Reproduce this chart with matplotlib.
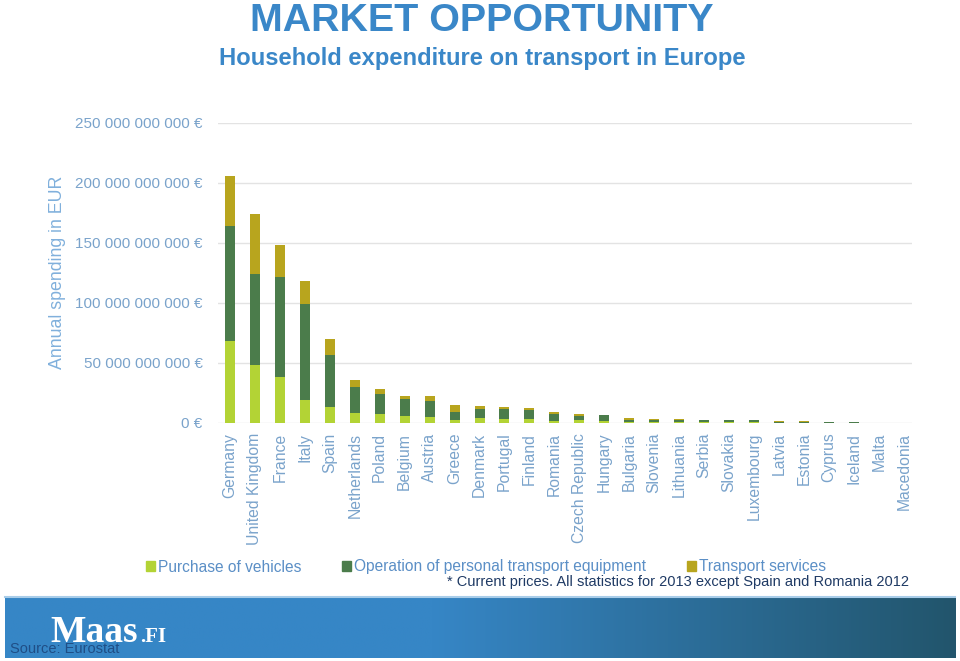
import numpy as np
import matplotlib
matplotlib.use('Agg')
import matplotlib.pyplot as plt
from matplotlib.patches import Patch
from matplotlib.ticker import FuncFormatter

plt.rcParams['font.family'] = ['Liberation Sans', 'DejaVu Sans']

countries = ['Germany', 'United Kingdom', 'France', 'Italy', 'Spain', 'Netherlands',
             'Poland', 'Belgium', 'Austria', 'Greece', 'Denmark', 'Portugal', 'Finland',
             'Romania', 'Czech Republic', 'Hungary', 'Bulgaria', 'Slovenia', 'Lithuania',
             'Serbia', 'Slovakia', 'Luxembourg', 'Latvia', 'Estonia', 'Cyprus', 'Iceland',
             'Malta', 'Macedonia']

# billions of EUR
purchase = [68, 48, 38, 19, 13, 8, 7.5, 6.1, 5.3, 2.8, 3.9, 3.1, 3.1,
            1.9, 2.2, 1.4, 0.8, 0.8, 0.7, 0.5, 0.6, 0.9, 0.3, 0.3, 0.3, 0.2, 0.1, 0.1]
operation = [96, 76, 84, 80, 44, 22, 16.4, 14.2, 12.7, 6.1, 7.8, 8.3, 7.5,
             5.3, 3.9, 5.0, 1.7, 1.8, 2.0, 1.8, 1.5, 1.6, 0.9, 0.7, 0.6, 0.4, 0.2, 0.2]
services = [42, 50, 26, 19, 13, 6, 4.4, 2.5, 4.2, 6.4, 2.2, 2.2, 2.2,
            1.7, 1.1, 0.5, 1.7, 0.4, 0.3, 0.4, 0.8, 0.3, 0.3, 0.3, 0.2, 0.2, 0.1, 0.1]

series_names = ['Purchase of vehicles', 'Operation of personal transport equipment',
                'Transport services']
colors = ['#b3d335', '#4b7c4b', '#b8a51e']

blue = '#3a87c8'
tick_blue = '#7aa3cb'

purchase = np.array(purchase) * 1e9
operation = np.array(operation) * 1e9
services = np.array(services) * 1e9
x = np.arange(len(countries))

fig = plt.figure(figsize=(9.6, 6.61), dpi=100)
ax = fig.add_axes([218 / 960, 1 - 423 / 661, (912 - 218) / 960, 300 / 661])

ax.bar(x, purchase, 0.4, color=colors[0], zorder=3)
ax.bar(x, operation, 0.4, bottom=purchase, color=colors[1], zorder=3)
ax.bar(x, services, 0.4, bottom=purchase + operation, color=colors[2], zorder=3)

ax.set_xlim(-0.48, 27.33)
ax.set_ylim(0, 250e9)
ax.set_yticks(np.arange(0, 251e9, 50e9))
ax.yaxis.set_major_formatter(FuncFormatter(
    lambda v, p: '{:,.0f} €'.format(v).replace(',', ' ')))
ax.grid(axis='y', color='#e3e3e3', lw=1, zorder=0)
for s in ax.spines.values():
    s.set_visible(False)
ax.set_xticks(x)
ax.set_xticklabels(countries, rotation=90, va='top', ha='center')
ax.tick_params(axis='both', length=0, labelsize=11.3, labelcolor=tick_blue)
ax.tick_params(axis='x', pad=7)
ax.tick_params(axis='y', labelsize=11, pad=11)

fig.text(58 / 960, 1 - 272 / 661, 'Annual spending in EUR', rotation=90,
         ha='center', va='center', fontsize=12.8, color='#80b0dc')

fig.text(482 / 960, 1 - 21 / 661, 'MARKET OPPORTUNITY', ha='center', va='center',
         fontsize=28.4, fontweight='bold', color=blue)
fig.text(482 / 960, 1 - 58 / 661, 'Household expenditure on transport in Europe',
         ha='center', va='center', fontsize=17.1, fontweight='bold', color=blue)

handles = [Patch(color=c) for c in colors]
leg = fig.legend(handles, series_names, loc='center left', ncol=3, frameon=False,
                 bbox_to_anchor=(146 / 960, 1 - 567 / 661), borderaxespad=0, borderpad=0,
                 handlelength=0.55, handleheight=0.55, handletextpad=0.2,
                 columnspacing=2.65, fontsize=11.2)
for t in leg.get_texts():
    t.set_color('#5b8fc6')

fig.text(909 / 960, 1 - 582 / 661,
         '* Current prices. All statistics for 2013 except Spain and Romania 2012',
         ha='right', va='center', fontsize=10.5, color='#1f3a64')

# bottom banner
fig.add_artist(plt.Line2D([5 / 960, 955 / 960], [1 - 597 / 661] * 2,
                          color='#a9cde9', lw=1.5))
bax = fig.add_axes([5 / 960, 1 - 658 / 661, 950 / 960, 60 / 661])
t = np.linspace(0, 1, 400)
t = np.clip((t - 0.45) / 0.55, 0, 1)
c0 = np.array([0x36, 0x86, 0xc6]) / 255
c1 = np.array([0x22, 0x55, 0x6c]) / 255
grad = c0[None, :] * (1 - t[:, None]) + c1[None, :] * t[:, None]
bax.imshow(grad[None, :, :], aspect='auto', extent=[0, 1, 0, 1])
bax.set_axis_off()

fig.text(50 / 960, 1 - 642 / 661, 'Maas', ha='left', va='baseline', fontsize=27,
         fontweight='bold', color='white', family='Liberation Serif')
fig.text(140 / 960, 1 - 642 / 661, '.FI', ha='left', va='baseline', fontsize=15,
         fontweight='bold', color='white', family='Liberation Serif')
fig.text(10 / 960, 1 - 649 / 661, 'Source: Eurostat', ha='left', va='center',
         fontsize=10.5, color='#1f4e86')

fig.savefig('out.png', dpi=100)
